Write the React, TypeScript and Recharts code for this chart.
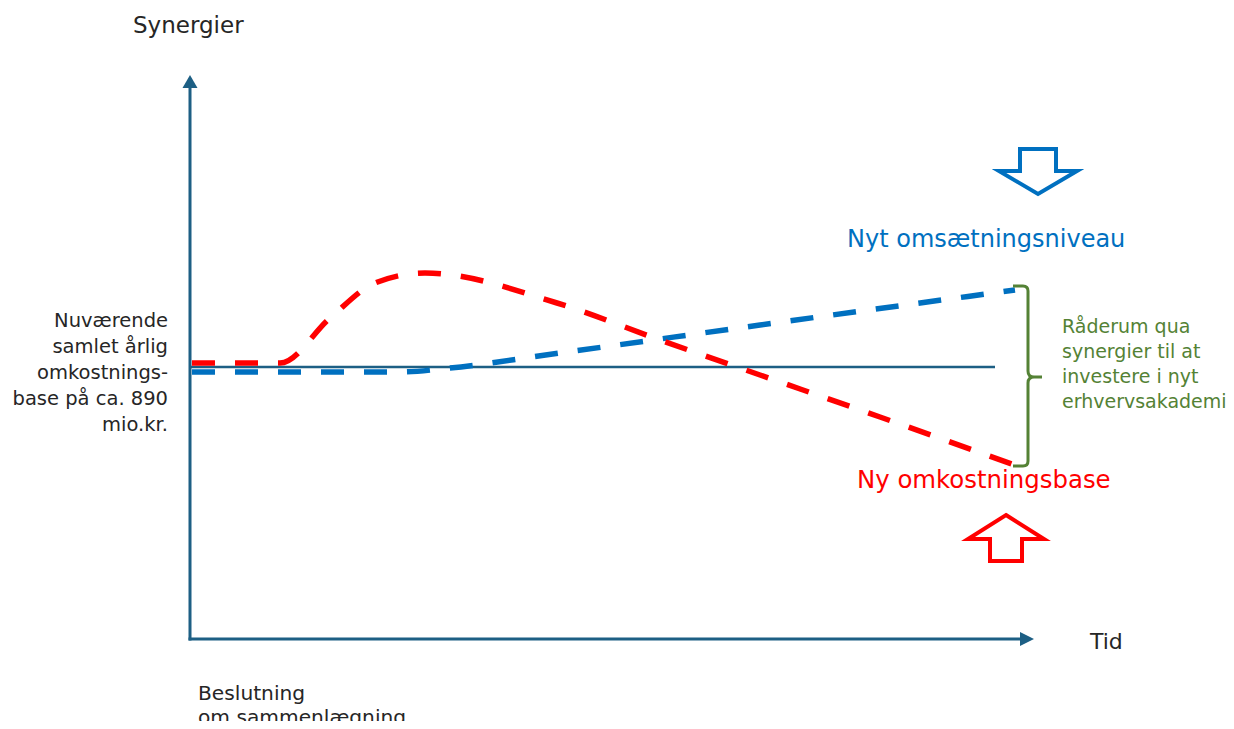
import React from 'react';
import { LineChart, Line, XAxis, YAxis, ReferenceLine, ReferenceDot } from 'recharts';

// Conceptual chart: time (x) vs. level (y), arbitrary units
const W = 1218;
const H = 713;

// Red dashed: ny omkostningsbase
const redTime = [192, 280, 330, 375, 425, 557, 660, 760, 880, 1020];
const redLevel = [366, 366, 411, 446, 456, 426, 389, 354, 312, 262];

// Blue dashed: nyt omsætningsniveau
const blueTime = [192, 400, 450, 560, 760, 1015];
const blueLevel = [357, 357, 361, 376, 404, 439];

// Current cost base (flat)
const baseLevel = 362;
const baseStart = 189;
const baseEnd = 995;

// Axis geometry (data units)
const axisOriginX = 190;
const axisOriginY = 90;
const yAxisTop = 654;
const xAxisEnd = 1034;

const xDomain = [8, 8 + W];
const yDomain = [8, 8 + H];

const redData = redTime.map((t, i) => ({ t, v: redLevel[i] }));
const blueData = blueTime.map((t, i) => ({ t, v: blueLevel[i] }));

const AXIS = '#1D5F84';
const RED = '#FF0000';
const BLUE = '#0070C0';
const GREEN = '#548235';
const TEXT = '#262626';
const FONT = '"DejaVu Sans", sans-serif';

const leftLabel = ['Nuværende', 'samlet årlig', 'omkostnings-', 'base på ca. 890', 'mio.kr.'];
const greenLabel = ['Råderum qua', 'synergier til at', 'investere i nyt', 'erhvervsakademi'];
const bottomLabel = ['Beslutning', 'om sammenlægning'];

const upHead = (p: any) => (
  <polygon points={`${p.cx},${p.cy} ${p.cx + 7.5},${p.cy + 13} ${p.cx - 7.5},${p.cy + 13}`} fill={AXIS} />
);
const rightHead = (p: any) => (
  <polygon points={`${p.cx},${p.cy} ${p.cx - 14},${p.cy - 7} ${p.cx - 14},${p.cy + 7}`} fill={AXIS} />
);
const downArrow = (p: any) => {
  const { cx, cy } = p;
  const pts = [
    [-18, -23], [18, -23], [18, -1], [39, -1], [0, 22], [-39, -1], [-18, -1],
  ].map(([dx, dy]) => `${cx + dx},${cy + dy}`).join(' ');
  return <polygon points={pts} fill="#fff" stroke={BLUE} strokeWidth={4} strokeLinejoin="miter" />;
};
const upArrow = (p: any) => {
  const { cx, cy } = p;
  const pts = [
    [0, -23], [38, 1], [16, 1], [16, 23], [-16, 23], [-16, 1], [-38, 1],
  ].map(([dx, dy]) => `${cx + dx},${cy + dy}`).join(' ');
  return <polygon points={pts} fill="#fff" stroke={RED} strokeWidth={4} strokeLinejoin="miter" />;
};
const brace = (p: any) => {
  const { cx, cy } = p;
  const d = `M${cx - 15},${cy - 91} L${cx - 5},${cy - 91} Q${cx},${cy - 91} ${cx},${cy - 86} L${cx},${cy - 6} Q${cx},${cy} ${cx + 6},${cy} L${cx + 14},${cy} M${cx + 6},${cy} Q${cx},${cy} ${cx},${cy + 6} L${cx},${cy + 84} Q${cx},${cy + 89} ${cx - 5},${cy + 89} L${cx - 15},${cy + 89}`;
  return <path d={d} fill="none" stroke={GREEN} strokeWidth={3} />;
};

export default function App() {
  return (
    <div style={{ position: 'relative', width: W, height: H }}>
      <LineChart width={W} height={H} margin={{ top: 0, right: 0, bottom: 0, left: 0 }}>
        <XAxis type="number" dataKey="t" domain={xDomain} allowDataOverflow hide />
        <YAxis type="number" dataKey="v" domain={yDomain} allowDataOverflow hide />
        <ReferenceLine
          segment={[{ x: baseStart, y: baseLevel }, { x: baseEnd, y: baseLevel }]}
          stroke={AXIS}
          strokeWidth={2.5}
        />
        <ReferenceLine
          segment={[{ x: axisOriginX, y: axisOriginY - 1.5 }, { x: axisOriginX, y: yAxisTop - 12 }]}
          stroke={AXIS}
          strokeWidth={3}
        />
        <ReferenceLine
          segment={[{ x: axisOriginX - 1.5, y: axisOriginY }, { x: xAxisEnd - 13, y: axisOriginY }]}
          stroke={AXIS}
          strokeWidth={3}
        />
        <ReferenceDot x={axisOriginX} y={yAxisTop} r={1} shape={upHead} />
        <ReferenceDot x={xAxisEnd} y={axisOriginY} r={1} shape={rightHead} />
        <Line
          data={blueData}
          dataKey="v"
          type="monotone"
          stroke={BLUE}
          strokeWidth={5.5}
          strokeDasharray="23 20"
          dot={false}
          activeDot={false}
          isAnimationActive={false}
        />
        <Line
          data={redData}
          dataKey="v"
          type="monotone"
          stroke={RED}
          strokeWidth={5.5}
          strokeDasharray="23 20"
          dot={false}
          activeDot={false}
          isAnimationActive={false}
        />
        <ReferenceDot x={1038} y={557} r={1} shape={downArrow} />
        <ReferenceDot x={1006} y={191} r={1} shape={upArrow} />
        <ReferenceDot x={1028} y={352} r={1} shape={brace} />
      </LineChart>
      <svg
        width={W}
        height={H + 8}
        style={{ position: 'absolute', left: 0, top: 0, pointerEvents: 'none', overflow: 'visible' }}
      >
        <g transform="translate(-8,-8)" fontFamily={FONT}>
          <text x={133} y={33} fontSize={23} fill={TEXT}>Synergier</text>
          <text x={1090} y={649} fontSize={22} fill={TEXT}>Tid</text>
          <text x={847} y={247} fontSize={24} fill={BLUE}>Nyt omsætningsniveau</text>
          <text x={857} y={488} fontSize={24.4} fill={RED}>Ny omkostningsbase</text>
          {leftLabel.map((s, i) => (
            <text key={s} x={168} y={327 + i * 26} fontSize={19.5} fill={TEXT} textAnchor="end">{s}</text>
          ))}
          {greenLabel.map((s, i) => (
            <text key={s} x={1062} y={333 + i * 25} fontSize={19} fill={GREEN}>{s}</text>
          ))}
          {bottomLabel.map((s, i) => (
            <text key={s} x={198} y={700 + i * 24} fontSize={20.2} fill={TEXT}>{s}</text>
          ))}
        </g>
      </svg>
    </div>
  );
}
